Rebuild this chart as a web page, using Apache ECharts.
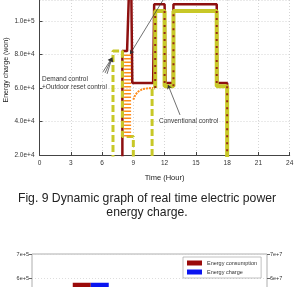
<!DOCTYPE html>
<html>
<head>
<meta charset="utf-8">
<script src="https://cdn.jsdelivr.net/npm/echarts@6/dist/echarts.min.js"></script>
<style>
  html, body { margin: 0; padding: 0; background: #fff; }
  #chart { width: 294px; height: 287px; }
</style>
</head>
<body>
<div id="chart"></div>
<script>
// ---- top chart: energy charge vs time ----
const hourTicks = [0, 3, 6, 9, 12, 15, 18, 21, 24];
const chargeTicks = [20000, 40000, 60000, 80000, 100000];

// conventional control (dark red, solid)
const convHours = [0, 7.95, 7.95, 8.4, 8.75, 8.85, 8.9, 10.9, 11.0, 12.0, 12.1, 12.8, 12.85, 17.0, 17.05, 18.0, 18.05, 24];
const convCharge = [0, 0, 82000, 82000, 150000, 150000, 63000, 63000, 110000, 110000, 63000, 63000, 110000, 110000, 63000, 63000, 0, 0];

// demand control, first part (yellow, dashed)
const demandHours = [0, 7.05, 7.05, 7.95, 7.95, 9.0, 9.0, 10.8, 10.8, 11.1];
const demandCharge = [0, 0, 82000, 82000, 31000, 31000, 0, 0, 60000, 60000];

// demand control, second part (yellow, solid)
const demand2Hours = [11.1, 11.1, 12.0, 12.0, 12.85, 12.85, 17.0, 17.0, 18.0, 18.0, 24];
const demand2Charge = [60000, 106000, 106000, 61000, 61000, 106000, 106000, 61000, 61000, 0, 0];

// dark dashes seen on the vertical steps ('-' breaks the line)
const stepHours = [11.1, 11.1, '-', 12.0, 12.0, '-', 12.85, 12.85, '-', 17.0, 17.0, '-', 18.0, 18.0];
const stepCharge = [60000, 106000, '-', 106000, 61000, '-', 61000, 106000, '-', 106000, 61000, '-', 61000, 0];

// demand + outdoor reset control (orange, dotted)
const resetHours = [8.45, 8.45];
const resetCharge = [31000, 81000];
const reset2Hours = [9.0, 9.2, 9.5, 9.9, 10.4, 10.9];
const reset2Charge = [53000, 56000, 58000, 59300, 59800, 60000];

// ---- bottom chart: energy consumption / charge ----
const bottomCats = ['Conventional control', 'Demand control'];
const consumption = [580000, 460000];
const charge = [58000000, 44000000];

const pairs = (xs, ys) => xs.map((x, i) => (x === '-' ? '-' : [x, ys[i]]));
const font = 'Liberation Sans';
const maroon = '#8e1010';
const yellow = '#c8c828';
const orange = '#ff8c1a';

const chart = echarts.init(document.getElementById('chart'));

chart.setOption({
  animation: false,
  textStyle: { fontFamily: font },
  grid: [
    { left: 39.5, right: 4.3, top: 0, height: 155, outerBoundsMode: 'none' },
    { left: 32, right: 27, top: 254, height: 168, outerBoundsMode: 'none', show: true, borderColor: '#999', borderWidth: 0.8 },
  ],
  legend: {
    data: ['Energy consumption', 'Energy charge'],
    orient: 'vertical',
    left: 183,
    top: 257,
    itemWidth: 15,
    itemHeight: 5,
    itemGap: 3,
    icon: 'rect',
    padding: [3, 4],
    borderColor: '#999',
    borderWidth: 0.6,
    backgroundColor: '#fff',
    textStyle: { fontSize: 5.5, color: '#333', fontFamily: font },
  },
  xAxis: [
    {
      gridIndex: 0,
      type: 'value',
      min: hourTicks[0],
      max: hourTicks[hourTicks.length - 1],
      interval: 3,
      name: 'Time (Hour)',
      nameLocation: 'middle',
      nameGap: 19,
      nameTextStyle: { fontSize: 7.5, color: '#222' },
      axisLine: { lineStyle: { color: '#444', width: 1 } },
      axisTick: { inside: true, length: 3, lineStyle: { color: '#444' } },
      axisLabel: { fontSize: 6.5, color: '#333', margin: 5 },
      splitLine: { show: true, lineStyle: { color: '#c4c4c4', type: [1, 2], width: 0.7 } },
    },
    {
      gridIndex: 1,
      type: 'category',
      data: bottomCats,
      axisLabel: { show: false },
      axisTick: { show: false },
    },
  ],
  yAxis: [
    {
      gridIndex: 0,
      type: 'value',
      min: chargeTicks[0],
      max: 112500,
      interval: 20000,
      axisLine: { show: true, lineStyle: { color: '#444', width: 1 } },
      axisTick: { show: true, inside: true, length: 3, lineStyle: { color: '#444' } },
      axisLabel: {
        fontSize: 6.5, color: '#333', margin: 5, showMaxLabel: false,
        formatter: v => (chargeTicks.includes(v) ? v.toExponential(1) : ''),
      },
      splitLine: { show: true, lineStyle: { color: '#c4c4c4', type: [1, 2], width: 0.7 } },
    },
    {
      gridIndex: 1,
      type: 'value',
      min: 0,
      max: 700000,
      interval: 100000,
      axisLine: { show: false },
      axisTick: { show: true, length: 3, lineStyle: { color: '#666' } },
      axisLabel: { fontSize: 5.5, color: '#333', margin: 3, formatter: v => (v === 0 ? '0' : (v / 1e5) + 'e+5') },
      splitLine: { show: true, lineStyle: { color: '#d0d0d0', type: [1, 2], width: 0.7 } },
    },
    {
      gridIndex: 1,
      type: 'value',
      position: 'right',
      min: 0,
      max: 70000000,
      interval: 10000000,
      axisLine: { show: false },
      axisTick: { show: true, length: 3, lineStyle: { color: '#666' } },
      axisLabel: { fontSize: 5.5, color: '#333', margin: 3, formatter: v => (v === 0 ? '0' : (v / 1e7) + 'e+7') },
      splitLine: { show: false },
    },
  ],
  graphic: [
    {
      type: 'text', x: 6, y: 70, rotation: Math.PI / 2,
      style: { text: 'Energy charge (won)', fontSize: 7, fill: '#222', fontFamily: font, align: 'center', verticalAlign: 'middle' },
    },
    { type: 'text', left: 42, top: 76, style: { text: 'Demand control', fontSize: 6.5, fill: '#333', fontFamily: font } },
    { type: 'text', left: 42, top: 84, style: { text: '+Outdoor reset control', fontSize: 6.5, fill: '#333', fontFamily: font } },
    { type: 'text', left: 159, top: 118, style: { text: 'Conventional control', fontSize: 6.5, fill: '#333', fontFamily: font } },
    { type: 'text', left: 'center', top: 193, style: { text: 'Fig. 9 Dynamic graph of real time electric power', fontSize: 12.2, fill: '#222', fontFamily: font } },
    { type: 'text', left: 'center', top: 207, style: { text: 'energy charge.', fontSize: 12.2, fill: '#222', fontFamily: font } },
  ],
  series: [
    {
      name: 'Demand control', type: 'line', xAxisIndex: 0, yAxisIndex: 0, symbol: 'none',
      data: pairs(demandHours, demandCharge),
      lineStyle: { color: yellow, width: 3, type: [7, 3] },
    },
    {
      name: 'Demand control 2', type: 'line', xAxisIndex: 0, yAxisIndex: 0, symbol: 'none',
      data: pairs(demand2Hours, demand2Charge),
      lineStyle: { color: yellow, width: 4 },
    },
    {
      name: 'Conventional control', type: 'line', xAxisIndex: 0, yAxisIndex: 0, symbol: 'none',
      data: pairs(convHours, convCharge),
      lineStyle: { color: maroon, width: 2.5 },
      z: 1,
    },
    {
      name: 'Step dashes', type: 'line', xAxisIndex: 0, yAxisIndex: 0, symbol: 'none',
      data: pairs(stepHours, stepCharge),
      connectNulls: false,
      lineStyle: { color: maroon, width: 2, type: [2, 5], opacity: 0.85 },
      z: 3,
    },
    {
      name: 'Reset ladder', type: 'line', xAxisIndex: 0, yAxisIndex: 0, symbol: 'none',
      data: pairs(resetHours, resetCharge),
      lineStyle: { color: orange, width: 7, type: [1.5, 2] },
      z: 3,
    },
    {
      name: 'Outdoor reset', type: 'line', xAxisIndex: 0, yAxisIndex: 0, symbol: 'none',
      data: pairs(reset2Hours, reset2Charge),
      lineStyle: { color: orange, width: 2, type: [2, 1] },
      z: 0,
      markLine: {
        silent: true,
        symbol: ['none', 'arrow'],
        symbolSize: 4,
        label: { show: false },
        lineStyle: { color: '#333', width: 0.7, type: 'solid' },
        z: 5,
        data: [
          [{ coord: [6.09, 69600] }, { coord: [6.96, 78000] }],
          [{ coord: [6.29, 69000] }, { coord: [6.96, 78000] }],
          [{ coord: [6.48, 68400] }, { coord: [6.96, 78000] }],
          [{ coord: [11.85, 112500] }, { coord: [8.69, 80300] }],
          [{ coord: [13.48, 43900] }, { coord: [12.33, 61800] }],
        ],
      },
    },
    {
      name: 'Energy consumption', type: 'bar', xAxisIndex: 1, yAxisIndex: 1,
      data: consumption, barWidth: 18, barGap: '0%',
      itemStyle: { color: '#9a0a0a' },
    },
    {
      name: 'Energy charge', type: 'bar', xAxisIndex: 1, yAxisIndex: 2,
      data: charge, barWidth: 18, barGap: '0%',
      itemStyle: { color: '#0a14f0' },
    },
  ],
});
</script>
</body>
</html>
